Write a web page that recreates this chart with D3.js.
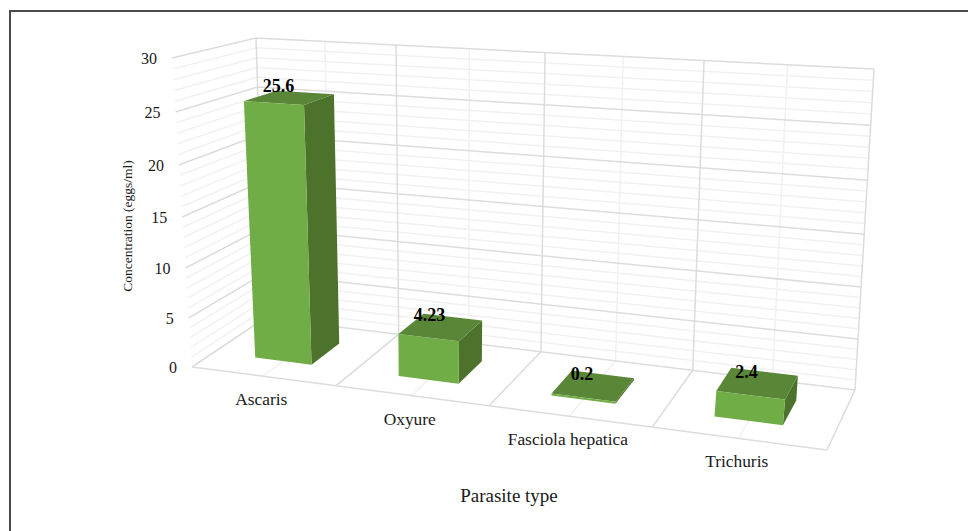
<!DOCTYPE html>
<html>
<head>
<meta charset="utf-8">
<script src="https://cdn.jsdelivr.net/npm/d3@7"></script>
<style>
  html, body { margin: 0; padding: 0; background: #fff; }
  svg { display: block; }
  text { font-family: "Liberation Serif", serif; fill: #1a1a1a; }
</style>
</head>
<body>
<svg id="chart" width="968" height="531"></svg>
<script>
// Chart data
const categories = ["Ascaris", "Oxyure", "Fasciola hepatica", "Trichuris"];
const concentrations = [25.6, 4.23, 0.2, 2.4];
const concentrationLabels = ["25.6", "4.23", "0.2", "2.4"];
const yDomain = [0, 30];
const yAxisTitle = "Concentration (eggs/ml)";
const xAxisTitle = "Parasite type";

// Corners of the 3D plot box on screen: F/B = front/back, B/T = bottom/top, L/R = left/right
const box = {
  FBL: [192, 367], FBR: [827, 450], FTL: [172, 58], FTR: [866, 97],
  BBL: [265, 318], BBR: [855, 390], BTL: [256, 38], BTR: [874, 69]
};
// Perspective ratios: the plot gets larger towards the right and the top
const xForeshorten = 1.138;
const yForeshorten = 1.06;

const xScale = d3.scaleBand().domain(categories).range([0, 1]).paddingInner(0.6).paddingOuter(0.3);
const yScale = d3.scaleLinear().domain(yDomain).range([0, 1]);
const zBar = [0.3, 0.72];     // depth extent of the bars inside the floor

const mix = (a, b, t) => [a[0] + (b[0] - a[0]) * t, a[1] + (b[1] - a[1]) * t];
const foreshorten = (t, r) => t / (t + r * (1 - t));

// Map model space (x across, value up, z into the page) to the screen
function project(xn, value, z) {
  const u = foreshorten(xn, xForeshorten);
  const v = foreshorten(yScale(value), yForeshorten);
  const front = mix(mix(box.FBL, box.FBR, u), mix(box.FTL, box.FTR, u), v);
  const back = mix(mix(box.BBL, box.BBR, u), mix(box.BTL, box.BTR, u), v);
  return mix(front, back, z);
}

const svg = d3.select("#chart");
const line = d3.line();
const poly = pts => line(pts) + "Z";

// Outer frame of the figure
svg.append("path").attr("d", line([[10, 531], [10, 11], [968, 11]]))
  .attr("fill", "none").attr("stroke", "#4a4a4a").attr("stroke-width", 2);

const grid = svg.append("g").attr("fill", "none");
const MAJOR = "#dcdcdc", MINOR = "#f1f1f1";
const addLine = (pts, colour) => grid.append("path").attr("d", line(pts))
  .attr("stroke", colour).attr("stroke-width", 1.5);

const minorTicks = yScale.ticks(30), majorTicks = yScale.ticks(6);
const isMajor = t => majorTicks.includes(t);
const xBreaks = d3.range(0, 1.001, 0.125);

// Minor lines go underneath the major ones
minorTicks.filter(t => !isMajor(t)).forEach(t => {
  addLine([project(0, t, 0), project(0, t, 1), project(1, t, 1)], MINOR);
});
xBreaks.forEach((b, i) => {
  if (i % 2 === 1) {
    addLine([project(b, 30, 1), project(b, 0, 1)], MINOR);
    addLine([project(b, 0, 1), project(b, 0, 0)], MINOR);
  }
});
majorTicks.forEach(t => {
  addLine([project(0, t, 0), project(0, t, 1), project(1, t, 1)], MAJOR);
});
xBreaks.forEach((b, i) => {
  if (i % 2 === 0) {
    addLine([project(b, 30, 1), project(b, 0, 1)], MAJOR);
    addLine([project(b, 0, 1), project(b, 0, 0)], MAJOR);
  }
});
addLine([project(0, 0, 0), project(1, 0, 0)], MAJOR);

// Bars: front, side and top faces
const bars = svg.append("g");
categories.forEach((c, i) => {
  const x0 = xScale(c), x1 = x0 + xScale.bandwidth();
  const val = concentrations[i];
  const [z0, z1] = zBar;
  const g = bars.append("g");
  g.append("path").attr("fill", "#4c722b")
    .attr("d", poly([project(x1, 0, z0), project(x1, 0, z1), project(x1, val, z1), project(x1, val, z0)]));
  g.append("path").attr("fill", "#5a8637")
    .attr("d", poly([project(x0, val, z0), project(x1, val, z0), project(x1, val, z1), project(x0, val, z1)]));
  g.append("path").attr("fill", "#70ad47")
    .attr("d", poly([project(x0, 0, z0), project(x1, 0, z0), project(x1, val, z0), project(x0, val, z0)]));

  // Value label, set up and to the left of the centre of the top face
  const topCentre = project((x0 + x1) / 2, val, (z0 + z1) / 2);
  g.append("text").text(concentrationLabels[i])
    .attr("x", topCentre[0] - 11).attr("y", topCentre[1] - 6)
    .attr("text-anchor", "middle").attr("font-size", 18).attr("font-weight", "bold")
    .style("fill", "#000");
});

// Value axis tick labels along the front edge of the left wall
svg.append("g").selectAll("text").data(majorTicks).join("text")
  .text(d => d)
  .attr("x", d => project(0, d, 0)[0] - 15)
  .attr("y", d => project(0, d, 0)[1] + 6)
  .attr("text-anchor", "end").attr("font-size", 16);

// Category labels below the front edge of the floor
svg.append("g").selectAll("text").data(categories).join("text")
  .text(d => d)
  .attr("x", d => project(xScale(d) + xScale.bandwidth() / 2, 0, 0)[0] - 1.5)
  .attr("y", d => project(xScale(d) + xScale.bandwidth() / 2, 0, 0)[1] + 29)
  .attr("text-anchor", "middle").attr("font-size", 17.4);

// Axis titles
svg.append("text").text(yAxisTitle)
  .attr("transform", "translate(132,226) rotate(-90)")
  .attr("text-anchor", "middle").attr("font-size", 13.5);
svg.append("text").text(xAxisTitle)
  .attr("x", 509).attr("y", 502)
  .attr("text-anchor", "middle").attr("font-size", 19);
</script>
</body>
</html>
